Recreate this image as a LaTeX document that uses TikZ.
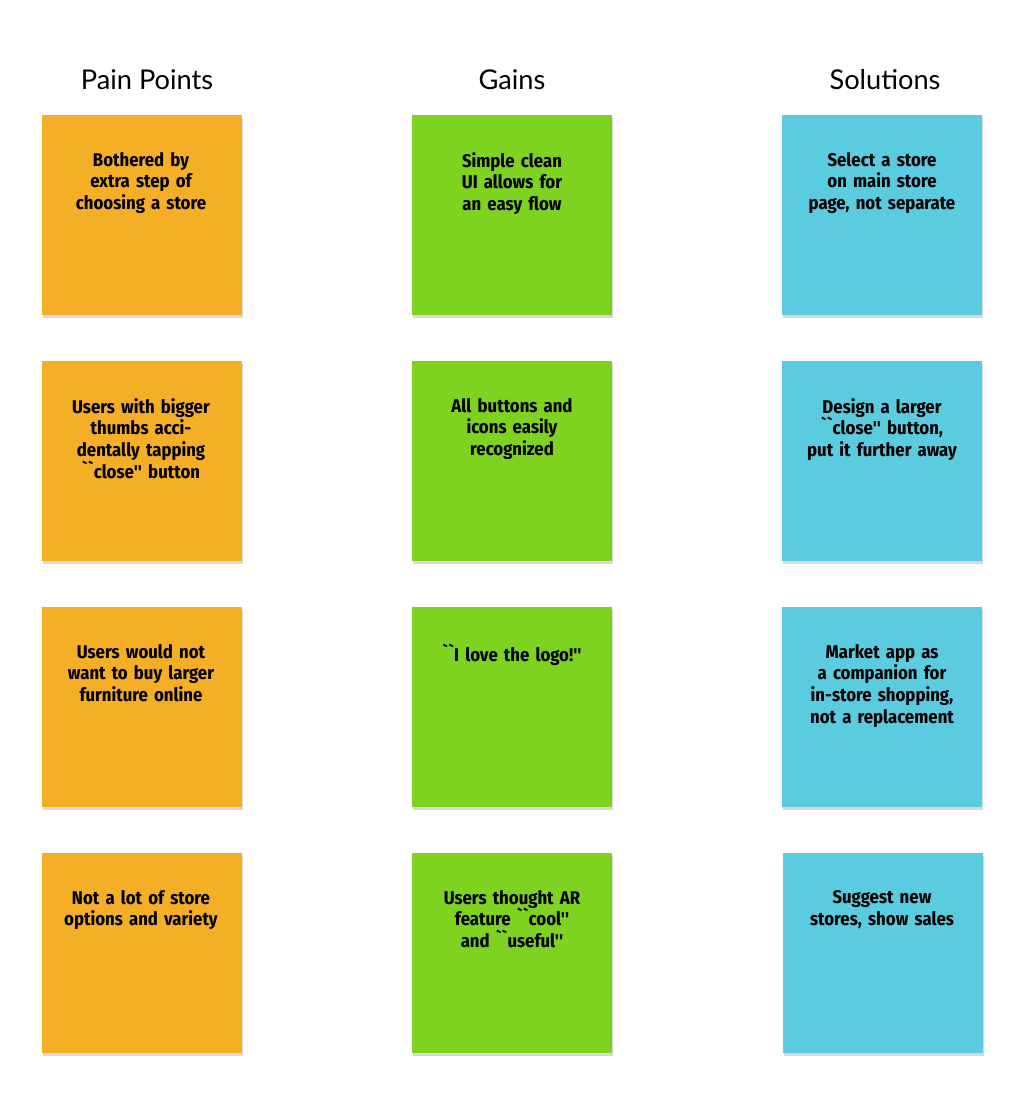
\documentclass[tikz,border=0pt]{standalone}
\usepackage{fontspec}
\setmainfont{Lato}
\newfontfamily\notefont{Fira Sans Condensed}[Scale=1]
\IfFontExistsTF{Fira Sans Condensed}{}{\renewcommand\notefont{\fontspec{Fira Sans}}}
\usetikzlibrary{shadows}
\definecolor{painorange}{HTML}{F5AF26}
\definecolor{gaingreen}{HTML}{7ED321}
\definecolor{solblue}{HTML}{5BCBE0}
\tikzset{
  heading/.style={font=\fontsize{15.5}{18}\selectfont},
  note/.style={minimum width=4cm, minimum height=4cm, anchor=north west,
    drop shadow={shadow xshift=0.5pt, shadow yshift=-1.5pt, opacity=0.3}},
  notetext/.style={anchor=north, text width=3.1cm, align=center,
    font=\notefont\bfseries\fontsize{10.5}{12.4}\selectfont}
}
\begin{document}
\begin{tikzpicture}[x=0.02cm,y=-0.02cm]
			\useasboundingbox (0,0) rectangle (1024,1113);

			% headings
			\node[heading] (hpain) at (147,80) {Pain Points};
			\node[heading] (hgain) at (512,80) {Gains};
			\node[heading] (hsol) at (885,80) {Solutions};

			% sticky notes
			\node[note, fill=painorange] (p1) at (42,115) {};
			\node[note, fill=painorange] (p2) at (42,361) {};
			\node[note, fill=painorange] (p3) at (42,607) {};
			\node[note, fill=painorange] (p4) at (42,853) {};
			\node[note, fill=gaingreen] (g1) at (412,115) {};
			\node[note, fill=gaingreen] (g2) at (412,361) {};
			\node[note, fill=gaingreen] (g3) at (412,607) {};
			\node[note, fill=gaingreen] (g4) at (412,853) {};
			\node[note, fill=solblue] (s1) at (782,115) {};
			\node[note, fill=solblue] (s2) at (782,361) {};
			\node[note, fill=solblue] (s3) at (782,607) {};
			\node[note, fill=solblue] (s4) at (783,853) {};

			% note texts
			\node[notetext] (tp1) at (141,146) {Bothered by extra step of choosing a store};
			\node[notetext] (tp2) at (141,392) {Users with bigger thumbs accidentally tapping ``close'' button};
			\node[notetext] (tp3) at (141,638) {Users would not want to buy larger furniture online};
			\node[notetext] (tp4) at (141,884) {Not a lot of store options and variety};
			\node[notetext] (tg1) at (512,146) {Simple clean UI allows for an easy flow};
			\node[notetext] (tg2) at (512,392) {All buttons and icons easily recognized};
			\node[notetext] (tg3) at (512,638) {``I love the logo!''};
			\node[notetext] (tg4) at (512,884) {Users thought AR feature ``cool'' and ``useful''};
			\node[notetext] (ts1) at (882,146) {Select a store on main store page, not separate};
			\node[notetext] (ts2) at (882,392) {Design a larger ``close'' button, put it further away};
			\node[notetext] (ts3) at (882,638) {Market app as a companion for in-store shopping, not a replacement};
			\node[notetext] (ts4) at (882,884) {Suggest new stores, show sales};
		\end{tikzpicture}
\end{document}
